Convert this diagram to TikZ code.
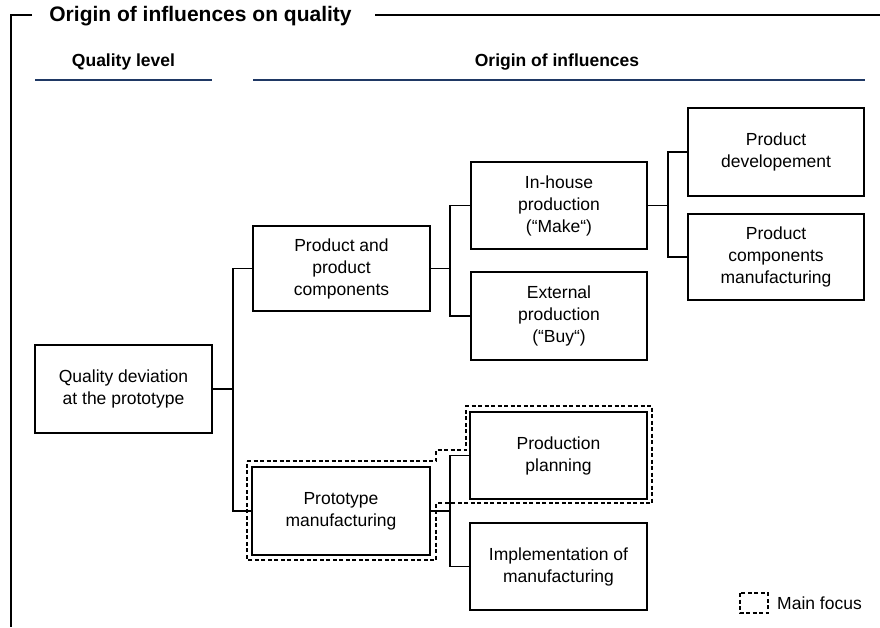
\documentclass[tikz,border=0pt]{standalone}
\usepackage{fontspec}
\setmainfont{Liberation Sans}
\begin{document}
\begin{tikzpicture}[x=1pt,y=-1pt,
  box/.style={draw=black,line width=1.6pt,align=center,inner sep=0pt,
    minimum width=177pt,minimum height=87pt,
    font=\fontsize{17.5}{22}\selectfont},
  conn/.style={draw=black,line width=1.5pt},
  hdr/.style={font=\fontsize{17.5}{21}\selectfont\bfseries,inner sep=0pt},
  navyline/.style={draw=navy,line width=1.5pt},
  focus/.style={draw=black,line width=1.3pt,dash pattern=on 4pt off 2.5pt}]
\definecolor{navy}{HTML}{1F3864}
\useasboundingbox (0,0) rectangle (880,627);
% frame
\node[font=\fontsize{21}{24}\selectfont\bfseries,inner sep=0pt] (title) at (200.5,16) {Origin of influences on quality};
\draw[line width=1.5pt] (32,15) -- (11,15) -- (11,627);
\draw[line width=1.5pt] (375,15) -- (880,15);
% headers
\node[hdr] (hql) at (123.5,62) {Quality level};
\node[hdr] (hoi) at (557,62) {Origin of influences};
\draw[navyline] (35,80) -- (212,80);
\draw[navyline] (253,80) -- (865,80);
% boxes
\node[box,minimum height=88pt] (qd) at (123.5,389) {Quality deviation\\at the prototype};
\node[box,minimum height=85pt] (pp) at (341.5,268.5) {Product and\\product\\components};
\node[box,minimum width=178pt,minimum height=88pt] (proto) at (341,511) {Prototype\\manufacturing};
\node[box,minimum width=176pt] (inh) at (559,205.5) {In-house\\production\\(“Make“)};
\node[box,minimum width=176pt,minimum height=88pt] (ext) at (559,316) {External\\production\\(“Buy“)};
\node[box] (plan) at (558.5,455.5) {Production\\planning};
\node[box] (impl) at (558.5,566.5) {Implementation of\\manufacturing};
\node[box,minimum width=176pt,minimum height=88pt] (dev) at (776,152) {Product\\developement};
\node[box,minimum width=176pt,minimum height=86pt] (pcm) at (776,257) {Product\\components\\manufacturing};
% connectors
\draw[conn] (qd.east) -- ++(20,0) |- (pp.west);
\draw[conn] (qd.east) -- ++(20,0) |- (proto.west);
\draw[conn] (pp.east) -- ++(19,0) |- (inh.west);
\draw[conn] (pp.east) -- ++(19,0) |- (ext.west);
\draw[conn] (inh.east) -- ++(20,0) |- (dev.west);
\draw[conn] (inh.east) -- ++(20,0) |- (pcm.west);
\draw[conn] (proto.east) -- ++(19,0) |- (plan.west);
\draw[conn] (proto.east) -- ++(19,0) |- (impl.west);
% main focus outline
\draw[focus] (247,461) -- (436,461) -- (436,450) -- (466,450) -- (466,406) -- (652,406)
  -- (652,503) -- (436,503) -- (436,560) -- (247,560) -- cycle;
% legend
\draw[focus] (740,593) rectangle (768,613);
\node[anchor=west,inner sep=0pt,font=\fontsize{17.5}{21}\selectfont] (leg) at (777,603) {Main focus};
\end{tikzpicture}
\end{document}
